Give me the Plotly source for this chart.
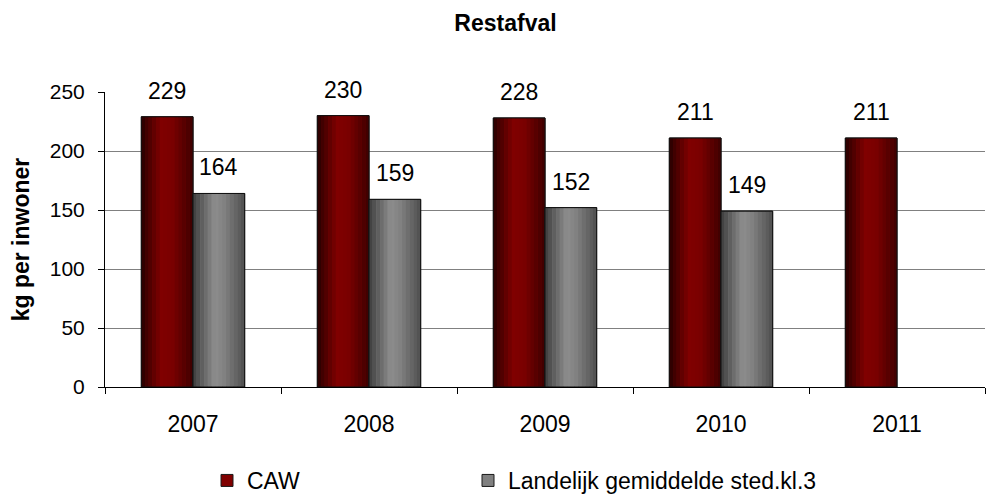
import plotly.graph_objects as go

years = ["2007", "2008", "2009", "2010", "2011"]
caw = [229, 230, 228, 211, 211]
landelijk = [164, 159, 152, 149, None]
series_names = ["CAW", "Landelijk gemiddelde sted.kl.3"]
y_ticks = [0, 50, 100, 150, 200, 250]

FONT = "Liberation Sans, Arial, sans-serif"

# style constants
L, R, T, B = 97, 18, 84, 115
W, H = 995, 494
BARGAP = 0.413
N_STRIPS = 14
plot_w = W - L - R
cat_px = plot_w / len(years)
bar_u = (1 - BARGAP) / 2          # bar width in category units
bar_px = cat_px * bar_u
legend_refs = ["legend", "legend2"]
legend_x_px = [199, 460]

# gradient profiles: (position, rgb) stops across the bar width, left to right
profiles = [
    [(0.0, (40, 0, 0)), (0.38, (128, 0, 0)), (0.6, (122, 0, 0)), (1.0, (60, 0, 0))],
    [(0.0, (60, 60, 60)), (0.42, (142, 142, 142)), (0.6, (130, 130, 130)), (1.0, (78, 78, 78))],
]
mid_colors = ["#800000", "#808080"]


def interp(stops, t):
    for (p0, c0), (p1, c1) in zip(stops[:-1], stops[1:]):
        if p0 <= t <= p1:
            f = (t - p0) / (p1 - p0)
            c = [round(a + (b - a) * f) for a, b in zip(c0, c1)]
            return "rgb(%d,%d,%d)" % tuple(c)
    return "rgb(%d,%d,%d)" % stops[-1][1]


fig = go.Figure()
for i, (name, vals) in enumerate(zip(series_names, [caw, landelijk])):
    base = -bar_u + i * bar_u
    # base fill (carries the legend entry)
    fig.add_trace(go.Bar(
        x=years, y=vals, name=name, legend=legend_refs[i],
        width=bar_u, offset=base,
        marker=dict(color=mid_colors[i], line=dict(color="#1a1a1a", width=1)),
        hoverinfo="skip",
    ))
    # gradient strips
    sw = bar_u / N_STRIPS
    for k in range(N_STRIPS):
        t = (k + 0.5) / N_STRIPS
        fig.add_trace(go.Bar(
            x=years, y=vals, showlegend=False, legend=legend_refs[i],
            width=sw * 1.02, offset=base + k * sw,
            marker=dict(color=interp(profiles[i], t), line=dict(width=0)),
            hoverinfo="skip",
        ))
    # outline on top
    fig.add_trace(go.Bar(
        x=years, y=vals, showlegend=False, legend=legend_refs[i],
        width=bar_u, offset=base,
        marker=dict(color="rgba(0,0,0,0)", line=dict(color="#111111", width=1)),
        hovertemplate="%{x}: %{y}<extra>" + name + "</extra>",
    ))
    shift = (-0.5 + i) * bar_px
    for idx, v in enumerate(vals):
        if v is None:
            continue
        # category axes place annotations by category index
        fig.add_annotation(x=idx, y=v, text=str(v), showarrow=False,
                           xref="x", yref="y", xanchor="center", yanchor="bottom",
                           xshift=shift, yshift=11,
                           font=dict(size=23, family=FONT, color="#000000"))

legend_style = dict(orientation="h", xref="container", yref="container",
                    xanchor="left", y=0, yanchor="bottom",
                    font=dict(size=23, family=FONT), itemwidth=30,
                    bgcolor="rgba(0,0,0,0)")

fig.update_layout(
    width=W, height=H,
    paper_bgcolor="white", plot_bgcolor="white",
    font=dict(family=FONT, size=22, color="#000000"),
    margin=dict(l=L, r=R, t=T, b=B),
    barmode="overlay",
    title=dict(text="<b>Restafval</b>", x=0.5, xanchor="center",
               y=1 - 15 / H, yanchor="middle", yref="container",
               font=dict(size=23, family=FONT)),
    showlegend=True,
    legend=dict(x=legend_x_px[0] / W, **legend_style),
    legend2=dict(x=legend_x_px[1] / W, **legend_style),
    yaxis=dict(range=[0, 250], tickvals=y_ticks, showgrid=True, gridcolor="#808080", gridwidth=1,
               showline=True, linecolor="#000000", linewidth=1, ticks="outside", ticklen=6,
               tickcolor="#000000", zeroline=False, ticklabelstandoff=9,
               tickfont=dict(size=21, family=FONT),
               title=dict(text="<b>kg per inwoner</b>", font=dict(size=23, family=FONT), standoff=14)),
    xaxis=dict(type="category", range=[-0.5, len(years) - 0.5],
               showline=True, linecolor="#000000", linewidth=1,
               ticks="outside", ticklen=6,
               tickcolor="#000000", tickson="boundaries", showgrid=False,
               ticklabelstandoff=16, tickfont=dict(size=23, family=FONT)),
)

fig.write_html("out.html")
